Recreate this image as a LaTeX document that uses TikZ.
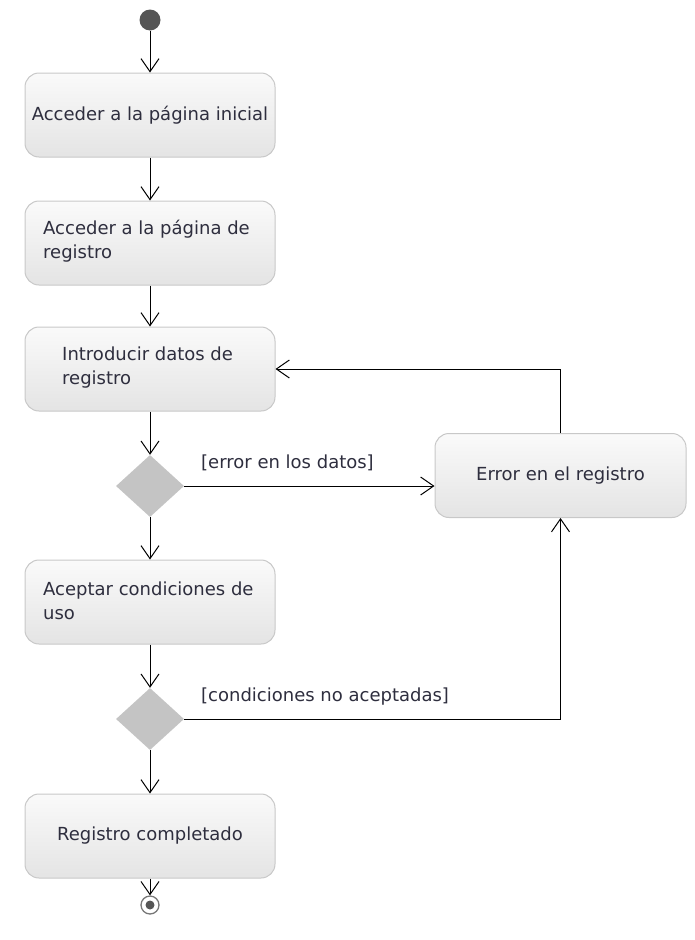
\documentclass[tikz,border=0pt]{standalone}
\usepackage{fontspec}
\setmainfont{DejaVu Sans}
\usetikzlibrary{arrows.meta,shapes.geometric}
\definecolor{boxline}{HTML}{C8C8C8}
\definecolor{boxtop}{HTML}{FAFAFA}
\definecolor{boxbot}{HTML}{E4E4E4}
\definecolor{decfill}{HTML}{C4C4C4}
\definecolor{txt}{HTML}{2E2E3E}
\definecolor{startfill}{HTML}{555555}
\begin{document}
\begin{tikzpicture}[x=1pt,y=-1pt,
  actbox/.style={rounded corners=14pt, draw=boxline, line width=1pt,
    top color=boxtop, bottom color=boxbot, minimum width=250pt, minimum height=84pt,
    inner sep=0pt, font=\fontsize{18}{24}\selectfont, text=txt},
  boxtext/.style={text=txt, anchor=west, align=left, inner sep=0pt,
    font=\fontsize{18}{24}\selectfont},
  decision/.style={diamond, fill=decfill, minimum width=68pt, minimum height=62pt,
    inner sep=0pt},
  flow/.style={line width=1pt, -{Straight Barb[length=13pt,width=18pt,line width=1pt]}},
  guard/.style={font=\fontsize{18}{22}\selectfont, text=txt, anchor=west, inner sep=0pt}]
\useasboundingbox (0,0) rectangle (694,940);
% initial node
\node[circle, fill=startfill, minimum size=21pt, inner sep=0pt] (start) at (150,20) {};
% actions
\node[actbox] (inicial) at (150,115) {Acceder a la página inicial};
\node[actbox] (pagreg) at (150,243) {};
\node[boxtext] (pagregt) at (43,241) {Acceder a la página de\\registro};
\node[actbox] (datos) at (150,369) {};
\node[boxtext] (datost) at (62,368) {Introducir datos de\\registro};
\node[decision] (dec1) at (150,486) {};
\node[actbox, minimum width=251pt] (error) at (560.5,475.5) {Error en el registro};
\node[actbox] (acept) at (150,602) {};
\node[boxtext] (aceptt) at (43,601) {Aceptar condiciones de\\uso};
\node[decision] (dec2) at (150,719) {};
\node[actbox] (compl) at (150,836) {Registro completado};
% final node
\node[circle, draw=startfill!80, line width=1.3pt, minimum size=18pt, inner sep=0pt] (fin) at (150,905) {};
\fill[startfill] (fin.center) circle (4.5pt);
% control flows
\draw[flow] (start) -- (inicial);
\draw[flow] (inicial) -- (pagreg);
\draw[flow] (pagreg) -- (datos);
\draw[flow] (datos) -- (dec1);
\draw[flow] (dec1) -- (acept);
\draw[flow] (acept) -- (dec2);
\draw[flow] (dec2) -- (compl);
\draw[flow] (compl) -- (fin);
\draw[flow] (dec1.east) -- (dec1.east -| error.west);
\draw[flow] (error.north) |- (datos.east);
\draw[flow] (dec2.east) -| (error.south);
% guards
\node[guard] (g1) at (201,463) {[error en los datos]};
\node[guard] (g2) at (201,697) {[condiciones no aceptadas]};
\end{tikzpicture}
\end{document}
